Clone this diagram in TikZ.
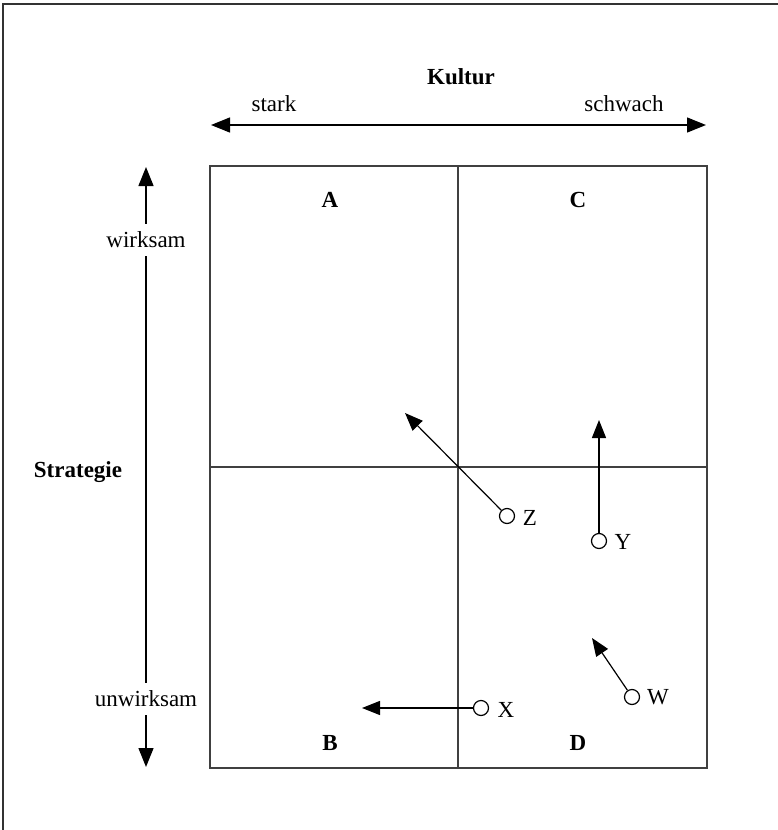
\documentclass[tikz,border=0pt]{standalone}
\usepackage{fontspec}
\setmainfont{Liberation Serif}
\usetikzlibrary{arrows.meta}
\begin{document}
\begin{tikzpicture}[x=1pt,y=-1pt,
  txt/.style={font=\fontsize{23}{26}\selectfont, inner sep=0pt},
  btxt/.style={font=\fontsize{23}{26}\selectfont\bfseries, inner sep=0pt},
  gridline/.style={line width=1.3pt, draw=black!75},
  axis/.style={line width=1.3pt, -{Triangle[length=19pt,width=15pt]}},
  move/.style={line width=1.2pt, -{Triangle[length=18pt,width=14pt]}},
  dot/.style={circle, draw, line width=1.2pt, minimum size=15pt, inner sep=0pt},
  frame/.style={line width=2pt, draw=black!80}]
\useasboundingbox (0,0) rectangle (778,830);
% outer frame (top and left only)
\coordinate (fTL) at (3,4);
\coordinate (fTR) at (778,4);
\coordinate (fBL) at (3,830);
\draw[frame] (fTR) -- (fTL) -- (fBL);
% matrix box
\coordinate (bTL) at (210,166);
\coordinate (bBR) at (707,768);
\draw[gridline] (bTL) rectangle (bBR);
\coordinate (mT) at (458,166);
\coordinate (mB) at (458,768);
\coordinate (mL) at (210,467);
\coordinate (mR) at (707,467);
\draw[gridline] (mT) -- (mB);
\draw[gridline] (mL) -- (mR);
% horizontal axis
\node[btxt] (kultur) at (461,77) {Kultur};
\node[txt] (stark) at (274,104) {stark};
\node[txt] (schwach) at (624,104) {schwach};
\coordinate (hL) at (211,125);
\coordinate (hR) at (706,125);
\coordinate (hM) at (458,125);
\draw[axis] (hM) -- (hL);
\draw[axis] (hM) -- (hR);
% vertical axis
\node[txt, inner ysep=8pt] (wirk) at (146,240) {wirksam};
\node[txt, inner ysep=8pt] (unwirk) at (146,699) {unwirksam};
\node[btxt] (strat) at (78,472) {Strategie};
\coordinate (vT) at (146,167);
\coordinate (vB) at (146,767);
\draw[axis] (wirk.north) -- (vT);
\draw[line width=1.3pt] (wirk.south) -- (unwirk.north);
\draw[axis] (unwirk.south) -- (vB);
% quadrant letters
\node[btxt] (A) at (330,200) {A};
\node[btxt] (C) at (578,200) {C};
\node[btxt] (B) at (330,743) {B};
\node[btxt] (D) at (578,743) {D};
% movements
\node[dot] (z) at (507,516) {};
\node[txt] (zl) at (530,518) {Z};
\coordinate (zt) at (405,413);
\draw[move] (z) -- (zt);
\node[dot] (y) at (599,541) {};
\node[txt] (yl) at (623,542) {Y};
\coordinate (yt) at (599,420);
\draw[move] (y) -- (yt);
\node[dot] (x) at (481,708) {};
\node[txt] (xl) at (506,710) {X};
\coordinate (xt) at (362,708);
\draw[move] (x) -- (xt);
\node[dot] (w) at (632,697) {};
\node[txt] (wl) at (658,697) {W};
\coordinate (wt) at (592,638);
\draw[move] (w) -- (wt);
\end{tikzpicture}
\end{document}
